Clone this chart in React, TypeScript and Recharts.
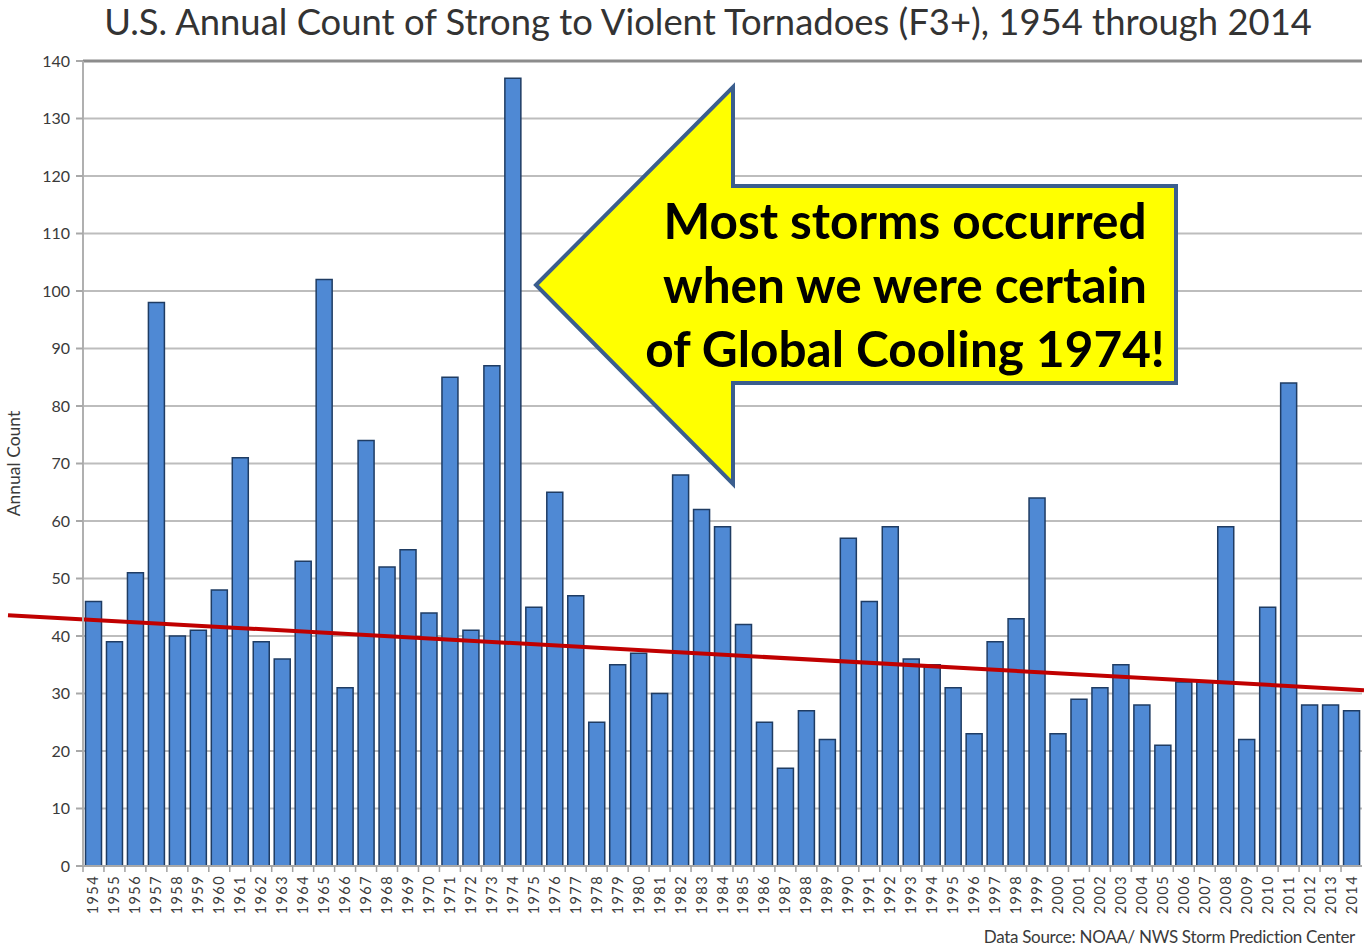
import React from "react";
import { Bar, BarChart, CartesianGrid, ReferenceLine, XAxis, YAxis } from "recharts";

const years = [
  "1954", "1955", "1956", "1957", "1958", "1959", "1960", "1961", "1962", "1963",
  "1964", "1965", "1966", "1967", "1968", "1969", "1970", "1971", "1972", "1973",
  "1974", "1975", "1976", "1977", "1978", "1979", "1980", "1981", "1982", "1983",
  "1984", "1985", "1986", "1987", "1988", "1989", "1990", "1991", "1992", "1993",
  "1994", "1995", "1996", "1997", "1998", "1999", "2000", "2001", "2002", "2003",
  "2004", "2005", "2006", "2007", "2008", "2009", "2010", "2011", "2012", "2013",
  "2014"
];

const counts = [
  46, 39, 51, 98, 40, 41, 48, 71, 39, 36,
  53, 102, 31, 74, 52, 55, 44, 85, 41, 87,
  137, 45, 65, 47, 25, 35, 37, 30, 68, 62,
  59, 42, 25, 17, 27, 22, 57, 46, 59, 36,
  35, 31, 23, 39, 43, 64, 23, 29, 31, 35,
  28, 21, 32, 32, 59, 22, 45, 84, 28, 28,
  27
];

const yTicks = [0, 10, 20, 30, 40, 50, 60, 70, 80, 90, 100, 110, 120, 130, 140];

// trend line end values
const trendStart = 42.8;
const trendEnd = 30.7;

const calloutLines = ["Most storms occurred", "when we were certain", "of Global Cooling 1974!"];

const data = years.map((year, i) => ({ year, count: counts[i] }));

const W = 1364;
const H = 947;
const font = "Lato, 'Open Sans', sans-serif";

const YearTick = (props: any) => {
  const { x, y, payload } = props;
  const half = 1279 / years.length / 2;
  return (
    <g>
      <line x1={x - half} x2={x - half} y1={y - 8} y2={y - 2} stroke="#a0a0a0" strokeWidth={1.5} />
      <text
        x={x}
        y={y}
        transform={`rotate(-90, ${x}, ${y})`}
        textAnchor="end"
        dy={5}
        dx={-1}
        fontSize={14.5}
        letterSpacing={1.4}
        fill="#3a3a3a"
        fontFamily={font}
      >
        {payload.value}
      </text>
    </g>
  );
};

const TrendShape = (props: any) => {
  const { x1, y1, x2, y2 } = props;
  const slope = (y2 - y1) / (x2 - x1);
  const left = 8;
  const right = W;
  return (
    <line
      x1={left}
      y1={y1 + (left - x1) * slope}
      x2={right}
      y2={y1 + (right - x1) * slope}
      stroke="#c00000"
      strokeWidth={4}
    />
  );
};

export default function App() {
  return (
    <div style={{ position: "absolute", left: 0, top: 0, width: W, height: H, background: "#fff" }}>
      <BarChart
        width={W}
        height={H}
        data={data}
        margin={{ top: 61, right: 2, left: 23, bottom: 21 }}
        barCategoryGap="12%"
      >
        <CartesianGrid vertical={false} stroke="#bdbdbd" strokeWidth={2} />
        <XAxis
          dataKey="year"
          interval={0}
          height={60}
          tick={<YearTick />}
          tickLine={false}
          axisLine={{ stroke: "#a8a8a8", strokeWidth: 2 }}
        />
        <YAxis
          domain={[0, 140]}
          ticks={yTicks}
          width={60}
          tickSize={7}
          tickMargin={6}
          tick={{ fontSize: 16, fill: "#3a3a3a", fontFamily: font }}
          tickLine={{ stroke: "#a8a8a8", strokeWidth: 2 }}
          axisLine={{ stroke: "#b0b0b0", strokeWidth: 2 }}
          label={{
            value: "Annual Count",
            angle: -90,
            position: "insideLeft",
            offset: -9,
            style: { fontSize: 17.5, fill: "#3a3a3a", fontFamily: font, textAnchor: "middle" }
          }}
        />
        <YAxis
          yAxisId="frame"
          orientation="right"
          width={0}
          domain={[0, 140]}
          tick={false}
          tickLine={false}
          axisLine={{ stroke: "#8c8c8c", strokeWidth: 3 }}
        />
        <ReferenceLine y={140} stroke="#8c8c8c" strokeWidth={3} />
        <Bar
          dataKey="count"
          fill="#4f89d4"
          stroke="#1f3c63"
          strokeWidth={1.5}
          isAnimationActive={false}
        />
        <ReferenceLine
          segment={[
            { x: years[0], y: trendStart },
            { x: years[years.length - 1], y: trendEnd }
          ]}
          shape={<TrendShape />}
        />
      </BarChart>
      <svg
        width={W}
        height={H}
        style={{ position: "absolute", left: 0, top: 0, pointerEvents: "none" }}
      >
        <text
          x={708}
          y={35}
          textAnchor="middle"
          fontSize={36.4}
          fill="#333"
          fontFamily={font}
        >
          U.S. Annual Count of Strong to Violent Tornadoes (F3+), 1954 through 2014
        </text>
        <polygon
          points="536,285 733,87 733,186 1176,186 1176,383 733,383 733,484"
          fill="#ffff00"
          stroke="#3b5e8e"
          strokeWidth={4}
          strokeLinejoin="miter"
        />
        {calloutLines.map((line, i) => (
          <text
            key={line}
            x={905}
            y={239 + i * 64}
            textAnchor="middle"
            fontSize={49.5}
            fontWeight="bold"
            fill="#000"
            fontFamily={font}
          >
            {line}
          </text>
        ))}
        <text
          x={1355}
          y={943}
          textAnchor="end"
          fontSize={17}
          fill="#3a3a3a"
          fontFamily={font}
          letterSpacing={-0.3}
        >
          Data Source: NOAA/ NWS Storm Prediction Center
        </text>
      </svg>
    </div>
  );
}
